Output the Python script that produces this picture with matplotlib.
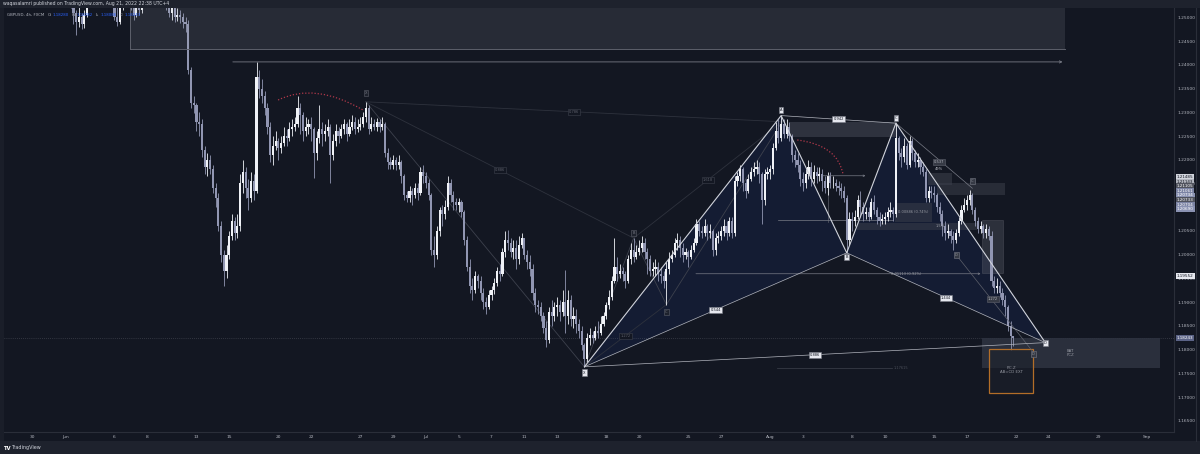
# GBPUSD 4h chart with harmonic pattern drawings (TradingView dark style)
import numpy as np
import matplotlib
matplotlib.use("Agg")
import matplotlib.pyplot as plt
from matplotlib.patches import Rectangle, Polygon, PathPatch
from matplotlib.path import Path
from matplotlib.transforms import blended_transform_factory

# =====================================================
# Data  (x = trading day index, May 30 = 0, 6 bars per day)
# =====================================================
trading_days = list(range(2, 60))
first_open = 1.2575

close_rows = [
    [1.2570, 1.2555, 1.2540, 1.2510, 1.2490, 1.2500],
    [1.2485, 1.2505, 1.2530, 1.2555, 1.2575, 1.2590],
    [1.2580, 1.2570, 1.2565, 1.2555, 1.2560, 1.2550],
    [1.2500, 1.2490, 1.2520, 1.2560, 1.2575, 1.2560],
    [1.2520, 1.2505, 1.2530, 1.2515, 1.2545, 1.2560],
    [1.2570, 1.2565, 1.2575, 1.2560, 1.2555, 1.2550],
    [1.2545, 1.2525, 1.2510, 1.2520, 1.2500, 1.2505],
    [1.2500, 1.2490, 1.2485, 1.2390, 1.2320, 1.2315],
    [1.2280, 1.2275, 1.2220, 1.2185, 1.2200, 1.2180],
    [1.2140, 1.2120, 1.2060, 1.2000, 1.1965, 1.2000],
    [1.2040, 1.2070, 1.2045, 1.2060, 1.2150, 1.2175],
    [1.2140, 1.2120, 1.2155, 1.2135, 1.2375, 1.2350],
    [1.2335, 1.2310, 1.2270, 1.2210, 1.2230, 1.2240],
    [1.2225, 1.2235, 1.2250, 1.2245, 1.2265, 1.2270],
    [1.2275, 1.2310, 1.2295, 1.2260, 1.2270, 1.2275],
    [1.2265, 1.2215, 1.2245, 1.2265, 1.2255, 1.2260],
    [1.2270, 1.2210, 1.2240, 1.2260, 1.2250, 1.2265],
    [1.2275, 1.2255, 1.2270, 1.2280, 1.2265, 1.2270],
    [1.2275, 1.2290, 1.2310, 1.2265, 1.2275, 1.2270],
    [1.2280, 1.2268, 1.2275, 1.2215, 1.2195, 1.2190],
    [1.2200, 1.2190, 1.2195, 1.2165, 1.2125, 1.2120],
    [1.2135, 1.2125, 1.2140, 1.2130, 1.2175, 1.2165],
    [1.2150, 1.2125, 1.2010, 1.2000, 1.2050, 1.2095],
    [1.2085, 1.2100, 1.2150, 1.2125, 1.2110, 1.2105],
    [1.2110, 1.2090, 1.2030, 1.1975, 1.1935, 1.1925],
    [1.1955, 1.1945, 1.1920, 1.1900, 1.1890, 1.1915],
    [1.1925, 1.1940, 1.1965, 1.1960, 1.2005, 1.2030],
    [1.2025, 1.2005, 1.2015, 1.1990, 1.2020, 1.2035],
    [1.2000, 1.1985, 1.1970, 1.1920, 1.1895, 1.1890],
    [1.1870, 1.1845, 1.1820, 1.1880, 1.1870, 1.1890],
    [1.1895, 1.1880, 1.1900, 1.1870, 1.1905, 1.1865],
    [1.1870, 1.1855, 1.1840, 1.1810, 1.1780, 1.1825],
    [1.1830, 1.1825, 1.1840, 1.1835, 1.1855, 1.1870],
    [1.1895, 1.1910, 1.1945, 1.1975, 1.1960, 1.1965],
    [1.1960, 1.1945, 1.1990, 1.2010, 1.1995, 1.2005],
    [1.2015, 1.2025, 1.2005, 1.1990, 1.1965, 1.1970],
    [1.1975, 1.1960, 1.1955, 1.1945, 1.1970, 1.1990],
    [1.2000, 1.2025, 1.2030, 1.2015, 1.2000, 1.2005],
    [1.1995, 1.2010, 1.2025, 1.2065, 1.2050, 1.2045],
    [1.2060, 1.2045, 1.2050, 1.2010, 1.2035, 1.2040],
    [1.2050, 1.2060, 1.2045, 1.2070, 1.2045, 1.2155],
    [1.2165, 1.2180, 1.2150, 1.2135, 1.2160, 1.2175],
    [1.2180, 1.2185, 1.2170, 1.2115, 1.2170, 1.2175],
    [1.2180, 1.2225, 1.2260, 1.2245, 1.2275, 1.2255],
    [1.2270, 1.2250, 1.2210, 1.2200, 1.2190, 1.2160],
    [1.2150, 1.2170, 1.2185, 1.2160, 1.2175, 1.2165],
    [1.2170, 1.2155, 1.2140, 1.2165, 1.2150, 1.2150],
    [1.2145, 1.2140, 1.2135, 1.2120, 1.2030, 1.2075],
    [1.2070, 1.2080, 1.2115, 1.2100, 1.2085, 1.2090],
    [1.2080, 1.2110, 1.2095, 1.2080, 1.2070, 1.2075],
    [1.2080, 1.2090, 1.2095, 1.2085, 1.2245, 1.2215],
    [1.2205, 1.2230, 1.2190, 1.2240, 1.2215, 1.2195],
    [1.2200, 1.2185, 1.2175, 1.2120, 1.2135, 1.2130],
    [1.2125, 1.2100, 1.2085, 1.2060, 1.2045, 1.2050],
    [1.2040, 1.2030, 1.2045, 1.2070, 1.2095, 1.2105],
    [1.2115, 1.2125, 1.2095, 1.2070, 1.2055, 1.2060],
    [1.2045, 1.2055, 1.2040, 1.1945, 1.1930, 1.1935],
    [1.1920, 1.1905, 1.1890, 1.1850, 1.1828, 1.18243],
]

high_rows = [
    [1.2600, 1.2580, 1.2565, 1.2545, 1.2515, 1.2525],
    [1.2510, 1.2515, 1.2540, 1.2565, 1.2590, 1.2600],
    [1.2600, 1.2590, 1.2585, 1.2580, 1.2575, 1.2570],
    [1.2555, 1.2525, 1.2535, 1.2570, 1.2590, 1.2585],
    [1.2565, 1.2535, 1.2540, 1.2540, 1.2555, 1.2575],
    [1.2585, 1.2580, 1.2590, 1.2585, 1.2575, 1.2570],
    [1.2560, 1.2550, 1.2530, 1.2535, 1.2525, 1.2520],
    [1.2515, 1.2510, 1.2500, 1.2495, 1.2395, 1.2335],
    [1.2320, 1.2300, 1.2285, 1.2230, 1.2215, 1.2210],
    [1.2190, 1.2150, 1.2130, 1.2070, 1.2010, 1.2020],
    [1.2050, 1.2085, 1.2080, 1.2085, 1.2170, 1.2200],
    [1.2185, 1.2160, 1.2175, 1.2170, 1.2406, 1.2390],
    [1.2370, 1.2345, 1.2320, 1.2280, 1.2250, 1.2260],
    [1.2245, 1.2250, 1.2270, 1.2265, 1.2280, 1.2285],
    [1.2290, 1.2335, 1.2320, 1.2300, 1.2290, 1.2285],
    [1.2290, 1.2270, 1.2260, 1.2315, 1.2280, 1.2275],
    [1.2285, 1.2275, 1.2255, 1.2275, 1.2270, 1.2275],
    [1.2285, 1.2280, 1.2285, 1.2295, 1.2290, 1.2285],
    [1.2290, 1.2300, 1.2322, 1.2315, 1.2290, 1.2285],
    [1.2288, 1.2285, 1.2290, 1.2280, 1.2225, 1.2205],
    [1.2210, 1.2205, 1.2210, 1.2200, 1.2170, 1.2135],
    [1.2145, 1.2140, 1.2150, 1.2150, 1.2185, 1.2190],
    [1.2175, 1.2160, 1.2130, 1.2040, 1.2060, 1.2100],
    [1.2105, 1.2115, 1.2165, 1.2160, 1.2135, 1.2120],
    [1.2120, 1.2115, 1.2095, 1.2040, 1.1990, 1.1950],
    [1.1965, 1.1960, 1.1955, 1.1930, 1.1910, 1.1925],
    [1.1935, 1.1950, 1.1975, 1.1980, 1.2015, 1.2050],
    [1.2052, 1.2035, 1.2030, 1.2030, 1.2040, 1.2045],
    [1.2030, 1.2010, 1.2000, 1.1980, 1.1930, 1.1905],
    [1.1900, 1.1880, 1.1860, 1.1890, 1.1905, 1.1900],
    [1.1910, 1.1905, 1.1925, 1.1968, 1.1925, 1.1915],
    [1.1890, 1.1885, 1.1865, 1.1850, 1.1815, 1.1835],
    [1.1845, 1.1840, 1.1850, 1.1860, 1.1870, 1.1880],
    [1.1900, 1.1925, 1.1955, 1.2035, 1.1995, 1.1980],
    [1.1975, 1.1965, 1.2000, 1.2025, 1.2035, 1.2020],
    [1.2030, 1.2040, 1.2035, 1.2015, 1.2000, 1.1985],
    [1.1990, 1.1985, 1.1975, 1.1965, 1.1985, 1.2005],
    [1.2010, 1.2035, 1.2045, 1.2040, 1.2025, 1.2015],
    [1.2010, 1.2020, 1.2035, 1.2075, 1.2072, 1.2060],
    [1.2075, 1.2065, 1.2065, 1.2055, 1.2045, 1.2050],
    [1.2060, 1.2075, 1.2070, 1.2080, 1.2080, 1.2165],
    [1.2175, 1.2190, 1.2185, 1.2160, 1.2170, 1.2185],
    [1.2195, 1.2200, 1.2195, 1.2175, 1.2180, 1.2185],
    [1.2190, 1.2235, 1.2280, 1.2285, 1.2293, 1.2285],
    [1.2285, 1.2280, 1.2255, 1.2220, 1.2215, 1.2200],
    [1.2175, 1.2180, 1.2200, 1.2195, 1.2190, 1.2185],
    [1.2185, 1.2180, 1.2165, 1.2175, 1.2175, 1.2165],
    [1.2160, 1.2155, 1.2150, 1.2145, 1.2125, 1.2090],
    [1.2090, 1.2095, 1.2125, 1.2135, 1.2110, 1.2100],
    [1.2100, 1.2120, 1.2125, 1.2100, 1.2090, 1.2085],
    [1.2090, 1.2100, 1.2110, 1.2100, 1.2277, 1.2250],
    [1.2225, 1.2245, 1.2235, 1.2250, 1.2245, 1.2220],
    [1.2215, 1.2205, 1.2195, 1.2180, 1.2145, 1.2145],
    [1.2145, 1.2130, 1.2110, 1.2095, 1.2070, 1.2065],
    [1.2055, 1.2050, 1.2055, 1.2080, 1.2105, 1.2120],
    [1.2125, 1.2136, 1.2130, 1.2100, 1.2080, 1.2070],
    [1.2065, 1.2065, 1.2060, 1.2050, 1.1955, 1.1950],
    [1.1945, 1.1930, 1.1915, 1.1895, 1.1860, 1.18282],
]

low_rows = [
    [1.2555, 1.2540, 1.2520, 1.2485, 1.2462, 1.2480],
    [1.2475, 1.2478, 1.2500, 1.2525, 1.2550, 1.2565],
    [1.2565, 1.2555, 1.2545, 1.2540, 1.2545, 1.2540],
    [1.2495, 1.2482, 1.2485, 1.2515, 1.2550, 1.2545],
    [1.2515, 1.2495, 1.2500, 1.2505, 1.2510, 1.2540],
    [1.2550, 1.2550, 1.2555, 1.2545, 1.2545, 1.2540],
    [1.2535, 1.2515, 1.2500, 1.2495, 1.2490, 1.2492],
    [1.2488, 1.2478, 1.2470, 1.2380, 1.2310, 1.2298],
    [1.2260, 1.2250, 1.2205, 1.2170, 1.2165, 1.2170],
    [1.2130, 1.2100, 1.2050, 1.1985, 1.1934, 1.1950],
    [1.1990, 1.2030, 1.2030, 1.2035, 1.2050, 1.2130],
    [1.2120, 1.2095, 1.2110, 1.2115, 1.2130, 1.2330],
    [1.2320, 1.2295, 1.2255, 1.2195, 1.2190, 1.2220],
    [1.2200, 1.2215, 1.2230, 1.2230, 1.2240, 1.2250],
    [1.2260, 1.2270, 1.2255, 1.2240, 1.2250, 1.2255],
    [1.2240, 1.2162, 1.2200, 1.2235, 1.2230, 1.2240],
    [1.2250, 1.2150, 1.2200, 1.2230, 1.2235, 1.2245],
    [1.2255, 1.2240, 1.2250, 1.2262, 1.2255, 1.2258],
    [1.2262, 1.2268, 1.2280, 1.2255, 1.2260, 1.2262],
    [1.2260, 1.2258, 1.2262, 1.2205, 1.2180, 1.2180],
    [1.2180, 1.2178, 1.2180, 1.2150, 1.2115, 1.2110],
    [1.2110, 1.2105, 1.2120, 1.2115, 1.2125, 1.2150],
    [1.2140, 1.2115, 1.2000, 1.1975, 1.1990, 1.2040],
    [1.2060, 1.2075, 1.2095, 1.2110, 1.2095, 1.2095],
    [1.2090, 1.2080, 1.2020, 1.1965, 1.1920, 1.1905],
    [1.1920, 1.1930, 1.1905, 1.1885, 1.1876, 1.1885],
    [1.1905, 1.1918, 1.1935, 1.1945, 1.1955, 1.1995],
    [1.2010, 1.1995, 1.1990, 1.1970, 1.1980, 1.2015],
    [1.1990, 1.1970, 1.1955, 1.1905, 1.1880, 1.1875],
    [1.1860, 1.1835, 1.1806, 1.1815, 1.1850, 1.1860],
    [1.1870, 1.1860, 1.1870, 1.1835, 1.1855, 1.1850],
    [1.1845, 1.1835, 1.1825, 1.1800, 1.1764, 1.1775],
    [1.1810, 1.1815, 1.1820, 1.1825, 1.1830, 1.1850],
    [1.1865, 1.1885, 1.1905, 1.1940, 1.1945, 1.1950],
    [1.1945, 1.1930, 1.1940, 1.1980, 1.1985, 1.1990],
    [1.2000, 1.2005, 1.1990, 1.1960, 1.1955, 1.1955],
    [1.1955, 1.1945, 1.1940, 1.1930, 1.1895, 1.1960],
    [1.1985, 1.1995, 1.2010, 1.1995, 1.1985, 1.1990],
    [1.1975, 1.1990, 1.2005, 1.2020, 1.2040, 1.2035],
    [1.2040, 1.2030, 1.2035, 1.1998, 1.2000, 1.2025],
    [1.2030, 1.2040, 1.2030, 1.2040, 1.2035, 1.2040],
    [1.2145, 1.2155, 1.2135, 1.2120, 1.2130, 1.2155],
    [1.2165, 1.2170, 1.2150, 1.2065, 1.2105, 1.2160],
    [1.2160, 1.2170, 1.2220, 1.2235, 1.2240, 1.2245],
    [1.2245, 1.2240, 1.2195, 1.2185, 1.2175, 1.2145],
    [1.2135, 1.2140, 1.2160, 1.2145, 1.2150, 1.2150],
    [1.2155, 1.2135, 1.2130, 1.2125, 1.2140, 1.2140],
    [1.2135, 1.2125, 1.2120, 1.2110, 1.2004, 1.2020],
    [1.2050, 1.2060, 1.2075, 1.2080, 1.2070, 1.2075],
    [1.2070, 1.2075, 1.2085, 1.2065, 1.2060, 1.2065],
    [1.2065, 1.2070, 1.2080, 1.2070, 1.2080, 1.2200],
    [1.2185, 1.2195, 1.2180, 1.2185, 1.2200, 1.2185],
    [1.2185, 1.2170, 1.2165, 1.2110, 1.2110, 1.2120],
    [1.2110, 1.2090, 1.2070, 1.2040, 1.2030, 1.2035],
    [1.2025, 1.2010, 1.2025, 1.2040, 1.2065, 1.2090],
    [1.2095, 1.2105, 1.2085, 1.2060, 1.2045, 1.2045],
    [1.2035, 1.2035, 1.2030, 1.1935, 1.1920, 1.1920],
    [1.1910, 1.1895, 1.1870, 1.1840, 1.1800, 1.18086],
]

# time axis labels
tick_days = [0, 2, 5, 7, 10, 12, 15, 17, 20, 22, 24, 26, 28, 30, 32,
             35, 37, 40, 42, 45, 47, 50, 52, 55, 57, 60, 62, 65, 68]
tick_labels = ["30", "Jun", "6", "8", "13", "15", "20", "22", "27", "29", "Jul",
               "5", "7", "11", "13", "18", "20", "25", "27", "Aug", "3", "8",
               "10", "15", "17", "22", "24", "29", "Sep"]

price_ticks = [1.165, 1.170, 1.175, 1.180, 1.185, 1.190, 1.195, 1.200, 1.205,
               1.210, 1.215, 1.220, 1.225, 1.230, 1.235, 1.240, 1.245, 1.250]

# harmonic (bat) pattern points: (day, price)
pattern_names = ["X", "A", "B", "C", "D"]
pattern_x = [33.667, 45.667, 49.667, 52.667, 61.78]
pattern_y = [1.1764, 1.2293, 1.2004, 1.2277, 1.1815]
ratio_labels = {"XB": "0.544", "AC": "0.942", "BD": "1.444", "XD": "0.886"}

# older (faint) pattern points
old_x = [20.333, 33.667, 36.667, 38.667, 45.72]
old_y = [1.2322, 1.1764, 1.2035, 1.1895, 1.2280]
old_ratio_labels = ["0.886", "1.272", "1.618", "0.786"]

# price tags on the right scale
tag_values = ["1.21485", "1.21143", "1.21105", "1.21061",
              "1.20734", "1.20733", "1.20704", "1.20690"]
tag_colors = ["#d1d4dc", "#b2b5be", "#50535e", "#7b83a3",
              "#8a92b2", "#50535e", "#7b83a3", "#8a92b2"]
last_price = 1.18243
level_price = 1.19552

# header: symbol and last bar OHLC
header_parts = [("GBPUSD, 4h, FXCM", "#b2b5be"), ("O:", "#b2b5be"), ("1.18280", "#2962ff"),
                ("H:", "#b2b5be"), ("1.18282", "#2962ff"), ("L:", "#b2b5be"),
                ("1.18086", "#2962ff"), ("C:", "#b2b5be"), ("1.18243", "#2962ff")]

# =====================================================
# Figure
# =====================================================
BG = "#131722"
W, H = 1200, 454
fig = plt.figure(figsize=(12, 4.54), dpi=100)
fig.patch.set_facecolor(BG)
ax = fig.add_axes([4 / W, 1 - 432 / H, 1170 / W, 424 / H])
ax.set_facecolor(BG)
ax.set_xlim(-1.739, 69.63)
ax.set_ylim(1.16268, 1.25195)

# candles
close = np.array(close_rows).ravel()
high = np.array(high_rows).ravel()
low = np.array(low_rows).ravel()
opens = np.concatenate([[first_open], close[:-1]])
x = np.array([d + k / 6 for d in trading_days for k in range(6)])
up = close >= opens
col = np.where(up, "#f0f2f7", "#9196b2")
hi = np.maximum(high, np.maximum(opens, close))
lo = np.minimum(low, np.minimum(opens, close))
ax.vlines(x, lo, hi, colors=col, lw=0.6, zorder=3)
ax.bar(x, np.maximum(np.abs(close - opens), 0.00008), bottom=np.minimum(opens, close),
       width=0.13, color=col, linewidth=0, zorder=3)

# top supply zone
ax.add_patch(Rectangle((5.95, 1.2433), 57.05, 0.02, facecolor="#b2b5be", alpha=0.13,
                       edgecolor="none", zorder=4))
ax.plot([5.95, 63.0], [1.2433, 1.2433], color="#5d606b", lw=0.7, zorder=4)
ax.plot([5.95, 5.95], [1.2433, 1.26], color="#5d606b", lw=0.7, zorder=4)
ax.annotate("", xy=(63.0, 1.2406), xytext=(12.05, 1.2406),
            arrowprops=dict(arrowstyle="->", color="#787b86", lw=0.6, mutation_scale=4), zorder=4)

# last price dotted line
ax.axhline(last_price, color="#787b86", lw=0.5, ls=(0, (1, 2)), alpha=0.6, zorder=2)

# red dotted arcs
for pts in ([(14.98, 1.23258), (17.24, 1.23637), (20.16, 1.23047)],
            [(46.65, 1.22416), (49.14, 1.2231), (49.45, 1.2168)]):
    path = Path(pts, [Path.MOVETO, Path.CURVE3, Path.CURVE3])
    ax.add_patch(PathPatch(path, fill=False, edgecolor="#b0384a", lw=0.9,
                           ls=(0, (1, 1.5)), zorder=4))

# grey boxes and measuring lines around the pattern
def box(x0, x1, y0, y1, fc="#3a3e4a", alpha=0.7, ec="none"):
    ax.add_patch(Rectangle((x0, y0), x1 - x0, y1 - y0, facecolor=fc, alpha=alpha,
                           edgecolor=ec, lw=0.5, zorder=2.5))

box(46.2, 52.74, 1.2248, 1.2279)
box(52.63, 54.88, 1.2069, 1.2109, alpha=0.55)
box(50.3, 57.6, 1.2052, 1.2067, alpha=0.55)
box(54.6, 56.1, 1.2147, 1.2172, alpha=0.6)
box(55.2, 59.3, 1.2126, 1.2151, alpha=0.55)
box(57.93, 59.2, 1.1962, 1.2073, fc="#5d606b", alpha=0.35, ec="#787b86")
ax.annotate("", xy=(50.98, 1.21663), xytext=(48.05, 1.21663),
            arrowprops=dict(arrowstyle="->", color="#787b86", lw=0.5, mutation_scale=3), zorder=4)
ax.plot([48.54, 48.54], [1.21663, 1.2069], color="#5d606b", lw=0.5, zorder=2.6)
ax.plot([45.48, 52.5], [1.20732, 1.20732], color="#787b86", lw=0.5, zorder=2.6)
ax.annotate("", xy=(58.0, 1.1960), xytext=(40.3, 1.1960),
            arrowprops=dict(arrowstyle="->", color="#787b86", lw=0.5, mutation_scale=3), zorder=2.6)
ax.plot([45.4, 52.4], [1.17616, 1.17616], color="#363a45", lw=0.6, zorder=2.6)

small = dict(fontsize=2.6, ha="center", va="center", zorder=7)
ax.text(53.75, 1.2089, "0.00886 (0.74%)", color="#9598a1", **small)
ax.text(55.4, 1.20595, "1.5%", color="#9598a1", **small)
ax.text(53.3, 1.1960, "0.01113 (0.92%)", color="#9598a1", **small)
ax.text(53.0, 1.17616, "1.17615", color="#4a4e59", **small)
ax.text(55.3, 1.2195, "0.537", color="#b2b5be",
        bbox=dict(boxstyle="square,pad=0.3", fc="#363a45", ec="#5d606b", lw=0.4), **small)
ax.text(55.3, 1.2181, "49%", color="#b2b5be", **small)
ax.text(58.57, 1.1906, "1.272", color="#b2b5be",
        bbox=dict(boxstyle="square,pad=0.3", fc="#363a45", ec="#5d606b", lw=0.4), **small)

# PCZ boxes
ax.add_patch(Rectangle((57.93, 1.17616), 10.87, 0.00631, facecolor="#2d3240",
                       alpha=0.9, edgecolor="none", zorder=2))
ax.text(63.3, 1.1793, "BAT\nPCZ", color="#9598a1", fontsize=2.8, ha="center",
        va="center", linespacing=1.1, zorder=7)
ax.add_patch(Rectangle((58.36, 1.1709), 2.68, 0.00926, facecolor=(0.11, 0.125, 0.17, 0.6),
                       edgecolor="#b36e28", lw=0.9, zorder=4))
ax.text(59.7, 1.1757, "P.C.Z\nAB=CD EXT", color="#9598a1", fontsize=2.8,
        ha="center", va="center", linespacing=1.1, zorder=7)

# older faint pattern
ox, oy = old_x, old_y
ax.plot(ox, oy, color="#3d414d", lw=0.6, zorder=2.4)
old_pairs = [(0, 2), (1, 3), (2, 4), (0, 4)]
for (i, j), lab in zip(old_pairs, old_ratio_labels):
    ax.plot([ox[i], ox[j]], [oy[i], oy[j]], color="#2e323d", lw=0.6, zorder=2.4)
    ax.text((ox[i] + ox[j]) / 2, (oy[i] + oy[j]) / 2, lab, color="#5d606b",
            bbox=dict(boxstyle="square,pad=0.3", fc=BG, ec="#3d414d", lw=0.4), **small)
for xi, yi, lab, dy in [(ox[0], oy[0], "X", 0.0018), (ox[2], oy[2], "B", 0.0011),
                        (ox[3], oy[3], "C", -0.0015)]:
    ax.text(xi, yi + dy, lab, color="#787b86",
            bbox=dict(boxstyle="square,pad=0.3", fc="#1e222d", ec="#5d606b", lw=0.4), **small)

# secondary thin lines near D
ax.plot([pattern_x[3], 57.33], [pattern_y[3], 1.2140], color="#787b86", lw=0.5, zorder=4)
ax.plot([56.34, 61.04], [1.2000, 1.1795], color="#5d606b", lw=0.5, zorder=4)
for xi, yi, lab in [(57.33, 1.2155, "C"), (56.34, 1.19995, "D"), (61.04, 1.1791, "D")]:
    ax.text(xi, yi, lab, color="#9598a1",
            bbox=dict(boxstyle="square,pad=0.3", fc="#363a45", ec="#787b86", lw=0.4), **small)

# main bat pattern
px, py = pattern_x, pattern_y
ax.add_patch(Polygon([(px[0], py[0]), (px[1], py[1]), (px[2], py[2])],
                     facecolor="#2962ff", alpha=0.08, edgecolor="none", zorder=1))
ax.add_patch(Polygon([(px[2], py[2]), (px[3], py[3]), (px[4], py[4])],
                     facecolor="#2962ff", alpha=0.08, edgecolor="none", zorder=1))
ax.plot(px, py, color="#d1d4dc", lw=0.8, zorder=5)
idx = {n: i for i, n in enumerate(pattern_names)}
for key, lab in ratio_labels.items():
    i, j = idx[key[0]], idx[key[1]]
    ax.plot([px[i], px[j]], [py[i], py[j]], color="#b2b5be", lw=0.5, zorder=4.5)
    ax.text((px[i] + px[j]) / 2, (py[i] + py[j]) / 2, lab, color="#131722",
            bbox=dict(boxstyle="square,pad=0.3", fc="#e6e8ef", ec="#787b86", lw=0.4), **small)
point_offsets = [-0.0012, 0.0011, -0.0009, 0.0011, 0.0]
for n, xi, yi, dy in zip(pattern_names, px, py, point_offsets):
    ax.text(xi, yi + dy, n, color="#131722",
            bbox=dict(boxstyle="square,pad=0.3", fc="#e6e8ef", ec="#787b86", lw=0.4), **small)

# =====================================================
# Axes styling
# =====================================================
for s in ["top", "left"]:
    ax.spines[s].set_visible(False)
for s in ["right", "bottom"]:
    ax.spines[s].set_color("#2a2e39")
    ax.spines[s].set_linewidth(0.8)
ax.set_xticks(tick_days)
ax.set_xticklabels(tick_labels)
ax.yaxis.tick_right()
ax.set_yticks(price_ticks)
ax.set_yticklabels([f"{v:.5f}" for v in price_ticks])
ax.tick_params(axis="x", length=0, pad=2.2, labelsize=3.2, labelcolor="#b2b5be")
ax.tick_params(axis="y", length=0, pad=2.2, labelsize=3.2, labelcolor="#b2b5be")

# price tags
tr = blended_transform_factory(ax.transAxes, ax.transData)
tag_top = 1.21637
tag_step = 0.00097
for i, (v, c) in enumerate(zip(tag_values, tag_colors)):
    tc = "#131722" if c in ("#d1d4dc", "#b2b5be") else "#ffffff"
    ax.text(1.0025, tag_top - i * tag_step, v, transform=tr, fontsize=3.0, color=tc,
            ha="left", va="center", clip_on=False, zorder=10,
            bbox=dict(boxstyle="square,pad=0.2", fc=c, ec="none"))
ax.text(1.0025, level_price, f"{level_price:.5f}", transform=tr, fontsize=3.0,
        color="#131722", ha="left", va="center", clip_on=False, zorder=10,
        bbox=dict(boxstyle="square,pad=0.2", fc="#e6e8ef", ec="none"))
ax.text(1.0025, last_price, f"{last_price:.5f}", transform=tr, fontsize=3.0,
        color="#ffffff", ha="left", va="center", clip_on=False, zorder=10,
        bbox=dict(boxstyle="square,pad=0.2", fc="#5b6386", ec="none"))

# header / footer bars
fig.add_artist(Rectangle((0, 1 - 8 / H), 1, 8 / H, transform=fig.transFigure,
                         facecolor="#1e222d", edgecolor="none"))
fig.add_artist(Rectangle((0, 0), 1, 13 / H, transform=fig.transFigure,
                         facecolor="#1e222d", edgecolor="none"))
fig.add_artist(Rectangle((0, 13 / H), 4 / W, 1 - 21 / H, transform=fig.transFigure,
                         facecolor="#1a1e29", edgecolor="none"))
fig.add_artist(plt.Line2D([1196 / W, 1196 / W], [13 / H, 1 - 8 / H],
                          transform=fig.transFigure, color="#2a2e39", lw=0.8))

fig.text(3 / W, 1 - 4 / H, "waqasalamri published on TradingView.com, Aug 21, 2022 22:38 UTC+4",
         fontsize=3.3, color="#d1d4dc", va="center")

# symbol line: each piece starts right after the previous one
renderer = fig.canvas.get_renderer()
cur_x = 7.0
for s, c in header_parts:
    t = fig.text(cur_x / W, 1 - 14.5 / H, s, fontsize=2.8, color=c, va="center")
    ext = t.get_window_extent(renderer)
    cur_x = ext.x1 + (1.0 if s.endswith(":") else 3.0)

fig.text(3 / W, 1 - 448 / H, "TV", fontsize=3.8, color="#ffffff", va="center", weight="bold")
fig.text(11 / W, 1 - 448 / H, "TradingView", fontsize=3.5, color="#d1d4dc", va="center")

fig.savefig("out.png", dpi=100, facecolor=fig.get_facecolor())
